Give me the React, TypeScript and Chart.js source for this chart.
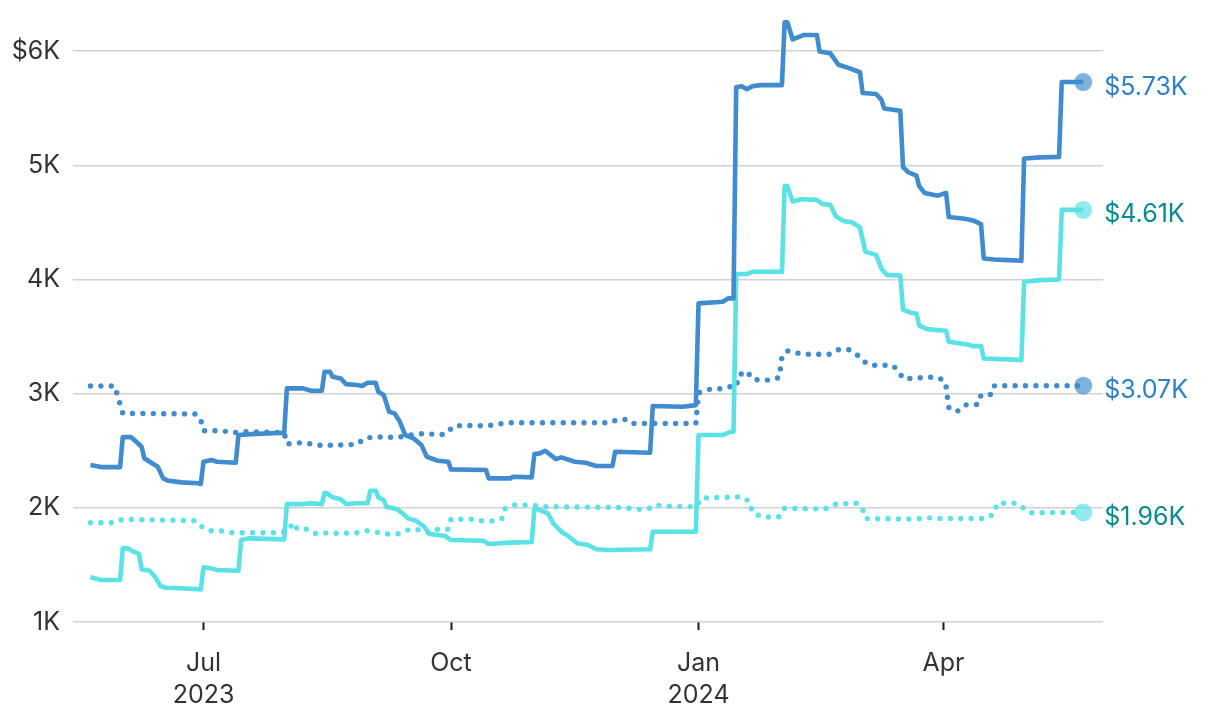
import React, { useEffect, useRef } from "react";
import { Chart, registerables } from "chart.js";

Chart.register(...registerables);

// ---------- data ----------
const START = "2023-05-01";
const X_MIN = "2023-05-13T12:00:00Z";
const X_MAX = "2024-05-30T08:00:00Z";

const TICK_DATES = ["2023-07-01", "2023-10-01", "2024-01-01", "2024-04-01"];
const TICK_LABELS = [["Jul", "2023"], ["Oct"], ["Jan", "2024"], ["Apr"]];
const Y_TICKS = [1000, 2000, 3000, 4000, 5000, 6000];

// Series A — solid dark blue
const A_DATES = [
  "2023-05-20", "2023-05-24", "2023-05-31", "2023-06-01", "2023-06-04", "2023-06-06", "2023-06-08", "2023-06-09",
  "2023-06-11", "2023-06-14", "2023-06-16", "2023-06-18", "2023-06-23", "2023-06-29", "2023-06-30", "2023-07-01",
  "2023-07-04", "2023-07-06", "2023-07-13", "2023-07-14", "2023-07-19", "2023-07-31", "2023-08-01", "2023-08-07",
  "2023-08-10", "2023-08-14", "2023-08-15", "2023-08-17", "2023-08-18", "2023-08-21", "2023-08-23", "2023-08-27",
  "2023-08-29", "2023-08-31", "2023-09-03", "2023-09-04", "2023-09-06", "2023-09-08", "2023-09-10", "2023-09-12",
  "2023-09-14", "2023-09-17", "2023-09-20", "2023-09-22", "2023-09-23", "2023-09-26", "2023-09-30", "2023-10-01",
  "2023-10-14", "2023-10-15", "2023-10-23", "2023-10-24", "2023-10-31", "2023-11-01", "2023-11-03", "2023-11-05",
  "2023-11-09", "2023-11-11", "2023-11-16", "2023-11-20", "2023-11-24", "2023-11-30", "2023-12-01", "2023-12-14",
  "2023-12-15", "2023-12-26", "2023-12-31", "2024-01-01", "2024-01-10", "2024-01-12", "2024-01-14", "2024-01-15",
  "2024-01-17", "2024-01-19", "2024-01-21", "2024-01-24", "2024-02-01", "2024-02-02", "2024-02-03", "2024-02-05",
  "2024-02-09", "2024-02-14", "2024-02-15", "2024-02-19", "2024-02-22", "2024-02-26", "2024-03-01", "2024-03-02",
  "2024-03-07", "2024-03-09", "2024-03-10", "2024-03-16", "2024-03-17", "2024-03-19", "2024-03-22", "2024-03-23",
  "2024-03-25", "2024-03-30", "2024-04-02", "2024-04-03", "2024-04-09", "2024-04-12", "2024-04-15", "2024-04-16",
  "2024-04-20", "2024-04-25", "2024-04-30", "2024-05-01", "2024-05-07", "2024-05-14", "2024-05-15", "2024-05-23",
];
const A_VALUES = [
  2375, 2357, 2357, 2620, 2620, 2579, 2535, 2434,
  2404, 2360, 2258, 2237, 2223, 2215, 2209, 2404,
  2419, 2404, 2395, 2638, 2646, 2658, 3047, 3047,
  3026, 3026, 3192, 3192, 3148, 3134, 3084, 3076,
  3067, 3096, 3096, 3017, 2988, 2842, 2828, 2754,
  2638, 2609, 2550, 2448, 2439, 2413, 2404, 2337,
  2331, 2258, 2258, 2272, 2267, 2471, 2477, 2500,
  2427, 2442, 2404, 2395, 2366, 2366, 2491, 2483,
  2892, 2885, 2900, 3791, 3805, 3835, 3835, 5685,
  5694, 5668, 5694, 5703, 5703, 6254, 6254, 6103,
  6142, 6142, 5997, 5982, 5882, 5852, 5816, 5634,
  5626, 5574, 5499, 5478, 4985, 4940, 4910, 4819,
  4759, 4735, 4759, 4548, 4533, 4518, 4485, 4185,
  4176, 4170, 4164, 5061, 5070, 5075, 5730, 5730,
];

// Series B — solid cyan
const B_DATES = [
  "2023-05-20", "2023-05-24", "2023-05-31", "2023-06-01", "2023-06-03", "2023-06-05", "2023-06-07", "2023-06-08",
  "2023-06-11", "2023-06-13", "2023-06-15", "2023-06-17", "2023-06-22", "2023-06-30", "2023-07-01", "2023-07-04",
  "2023-07-06", "2023-07-14", "2023-07-15", "2023-07-18", "2023-07-31", "2023-08-01", "2023-08-07", "2023-08-10",
  "2023-08-14", "2023-08-15", "2023-08-16", "2023-08-18", "2023-08-21", "2023-08-23", "2023-08-27", "2023-08-31",
  "2023-09-01", "2023-09-03", "2023-09-04", "2023-09-06", "2023-09-07", "2023-09-11", "2023-09-13", "2023-09-15",
  "2023-09-18", "2023-09-21", "2023-09-23", "2023-09-26", "2023-09-29", "2023-10-01", "2023-10-13", "2023-10-15",
  "2023-10-23", "2023-10-31", "2023-11-01", "2023-11-03", "2023-11-06", "2023-11-08", "2023-11-11", "2023-11-13",
  "2023-11-17", "2023-11-21", "2023-11-24", "2023-11-29", "2023-12-14", "2023-12-15", "2023-12-31", "2024-01-01",
  "2024-01-10", "2024-01-13", "2024-01-14", "2024-01-15", "2024-01-19", "2024-01-21", "2024-01-31", "2024-02-01",
  "2024-02-02", "2024-02-03", "2024-02-05", "2024-02-08", "2024-02-14", "2024-02-16", "2024-02-19", "2024-02-21",
  "2024-02-24", "2024-02-27", "2024-03-01", "2024-03-03", "2024-03-07", "2024-03-09", "2024-03-11", "2024-03-16",
  "2024-03-17", "2024-03-20", "2024-03-22", "2024-03-23", "2024-03-26", "2024-04-02", "2024-04-03", "2024-04-11",
  "2024-04-12", "2024-04-15", "2024-04-16", "2024-04-25", "2024-04-30", "2024-05-01", "2024-05-07", "2024-05-14",
  "2024-05-15", "2024-05-23",
];
const B_VALUES = [
  1392, 1368, 1368, 1645, 1645, 1616, 1596, 1462,
  1449, 1397, 1315, 1300, 1295, 1286, 1479, 1470,
  1455, 1449, 1718, 1733, 1724, 2033, 2033, 2040,
  2033, 2132, 2127, 2092, 2075, 2033, 2040, 2040,
  2150, 2150, 2092, 2068, 2010, 1987, 1952, 1908,
  1887, 1835, 1771, 1762, 1753, 1718, 1712, 1683,
  1695, 1701, 1996, 1981, 1952, 1864, 1791, 1762,
  1689, 1674, 1637, 1631, 1637, 1791, 1791, 2638,
  2638, 2667, 2667, 4048, 4048, 4068, 4068, 4065,
  4819, 4819, 4683, 4704, 4698, 4662, 4654, 4554,
  4512, 4502, 4457, 4245, 4216, 4095, 4041, 4034,
  3738, 3708, 3703, 3597, 3566, 3551, 3455, 3426,
  3415, 3417, 3309, 3301, 3294, 3980, 3995, 4001,
  4610, 4610,
];

// Series C — dotted dark blue
const C_DATES = [
  "2023-05-20", "2023-05-29", "2023-05-31", "2023-06-01", "2023-06-28", "2023-06-30", "2023-07-01", "2023-07-08",
  "2023-07-12", "2023-07-16", "2023-07-31", "2023-08-01", "2023-08-05", "2023-08-09", "2023-08-12", "2023-08-20",
  "2023-08-27", "2023-08-30", "2023-09-03", "2023-09-07", "2023-09-11", "2023-09-14", "2023-09-18", "2023-09-22",
  "2023-09-26", "2023-09-29", "2023-10-02", "2023-10-06", "2023-10-13", "2023-10-17", "2023-10-21", "2023-11-29",
  "2023-12-02", "2023-12-06", "2023-12-08", "2023-12-12", "2023-12-31", "2024-01-01", "2024-01-05", "2024-01-08",
  "2024-01-12", "2024-01-15", "2024-01-16", "2024-01-19", "2024-01-21", "2024-01-24", "2024-01-28", "2024-01-31",
  "2024-02-01", "2024-02-03", "2024-02-07", "2024-02-11", "2024-02-19", "2024-02-22", "2024-02-26", "2024-02-29",
  "2024-03-02", "2024-03-05", "2024-03-13", "2024-03-15", "2024-03-17", "2024-03-21", "2024-03-25", "2024-03-29",
  "2024-04-01", "2024-04-02", "2024-04-03", "2024-04-06", "2024-04-09", "2024-04-14", "2024-04-15", "2024-04-19",
  "2024-04-20", "2024-05-23",
];
const C_VALUES = [
  3067, 3067, 2909, 2828, 2822, 2769, 2675, 2675,
  2658, 2667, 2658, 2559, 2570, 2565, 2548, 2550,
  2556, 2609, 2623, 2618, 2618, 2629, 2646, 2653,
  2638, 2646, 2717, 2723, 2719, 2725, 2745, 2745,
  2775, 2775, 2740, 2740, 2740, 3008, 3038, 3038,
  3061, 3061, 3163, 3198, 3128, 3119, 3119, 3143,
  3323, 3376, 3355, 3346, 3346, 3385, 3385, 3340,
  3288, 3249, 3249, 3210, 3134, 3134, 3144, 3144,
  3122, 3062, 2880, 2842, 2902, 2907, 2988, 2994,
  3070, 3070,
];

// Series D — dotted cyan
const D_DATES = [
  "2023-05-20", "2023-05-29", "2023-06-01", "2023-06-28", "2023-06-30", "2023-07-03", "2023-07-07", "2023-07-11",
  "2023-07-30", "2023-08-02", "2023-08-03", "2023-08-05", "2023-08-09", "2023-08-12", "2023-08-16", "2023-08-19",
  "2023-08-27", "2023-08-31", "2023-09-03", "2023-09-07", "2023-09-11", "2023-09-15", "2023-09-18", "2023-09-22",
  "2023-09-23", "2023-09-26", "2023-09-30", "2023-10-01", "2023-10-09", "2023-10-13", "2023-10-17", "2023-10-20",
  "2023-10-21", "2023-10-24", "2023-10-28", "2023-11-01", "2023-11-04", "2023-11-29", "2023-12-05", "2023-12-09",
  "2023-12-13", "2023-12-16", "2023-12-20", "2023-12-31", "2024-01-02", "2024-01-06", "2024-01-17", "2024-01-20",
  "2024-01-21", "2024-01-24", "2024-01-28", "2024-01-31", "2024-02-02", "2024-02-17", "2024-02-21", "2024-02-29",
  "2024-03-02", "2024-03-03", "2024-03-22", "2024-03-26", "2024-03-31", "2024-04-17", "2024-04-20", "2024-04-21",
  "2024-04-28", "2024-05-01", "2024-05-03", "2024-05-23",
];
const D_VALUES = [
  1870, 1870, 1900, 1887, 1841, 1800, 1800, 1782,
  1782, 1806, 1870, 1812, 1812, 1771, 1782, 1777,
  1782, 1800, 1788, 1771, 1771, 1806, 1812, 1788,
  1777, 1812, 1812, 1900, 1900, 1885, 1885, 1908,
  1990, 2025, 2025, 2019, 2010, 2005, 2001, 1987,
  1987, 2025, 2016, 2010, 2083, 2089, 2097, 2054,
  1957, 1928, 1917, 1922, 1996, 1990, 2033, 2041,
  1987, 1906, 1902, 1914, 1906, 1908, 1952, 2040,
  2040, 1996, 1957, 1960,
];

// ---------- styles ----------
const BLUE = "#408cce";
const CYAN = "#5ce1e6";
const BLUE_DOT = "rgba(64,140,206,0.68)";
const CYAN_DOT = "rgba(92,225,230,0.68)";
const BLUE_TEXT = "#2f80c4";
const TEAL_TEXT = "#0a8a90";
const FONT = "Inter, 'Open Sans', sans-serif";

function toDay(s: string): number {
  const iso = s.length === 10 ? s + "T00:00:00Z" : s;
  return (Date.parse(iso) - Date.parse(START + "T00:00:00Z")) / 86400000;
}

function points(dates: string[], values: number[]) {
  return dates.map((d, i) => ({ x: toDay(d), y: values[i] }));
}

function fmtEnd(v: number) {
  return "$" + (v / 1000).toFixed(2) + "K";
}

export default function App() {
  const ref = useRef<HTMLCanvasElement | null>(null);

  useEffect(() => {
    if (!ref.current) return;
    document.body.style.margin = "0";

    const mk = (data: any[], color: string, dot: string, dotted: boolean, textColor: string) => ({
      data,
      borderColor: color,
      borderWidth: dotted ? 5.4 : 4.6,
      borderDash: dotted ? [0, 10.4] : [],
      borderCapStyle: dotted ? "round" : "butt",
      borderJoinStyle: "round",
      tension: 0,
      pointRadius: (c: any) => (c.dataIndex === data.length - 1 ? 9 : 0),
      pointHoverRadius: 0,
      pointBackgroundColor: dot,
      pointBorderWidth: 0,
      pointBorderColor: "rgba(0,0,0,0)",
      textColor,
    });

    const datasets: any[] = [
      mk(points(A_DATES, A_VALUES), BLUE, BLUE_DOT, false, BLUE_TEXT),
      mk(points(B_DATES, B_VALUES), CYAN, CYAN_DOT, false, TEAL_TEXT),
      mk(points(C_DATES, C_VALUES), BLUE, BLUE_DOT, true, BLUE_TEXT),
      mk(points(D_DATES, D_VALUES), CYAN, CYAN_DOT, true, TEAL_TEXT),
    ];

    const endLabels = {
      id: "endLabels",
      afterDatasetsDraw(chart: any) {
        const ctx = chart.ctx;
        chart.data.datasets.forEach((ds: any, i: number) => {
          const meta = chart.getDatasetMeta(i);
          const el = meta.data[meta.data.length - 1];
          const v = ds.data[ds.data.length - 1].y;
          ctx.save();
          ctx.font = "25px " + FONT;
          ctx.fillStyle = ds.textColor;
          ctx.textAlign = "left";
          ctx.textBaseline = "middle";
          ctx.fillText(fmtEnd(v), el.x + 21, el.y + 5);
          ctx.restore();
        });
      },
    };

    const chart = new Chart(ref.current, {
      type: "line",
      data: { datasets },
      plugins: [endLabels],
      options: {
        animation: false,
        responsive: false,
        devicePixelRatio: 1,
        layout: { padding: { left: 8, right: 117, top: 17, bottom: 0 } },
        plugins: { legend: { display: false }, tooltip: { enabled: false } },
        scales: {
          x: {
            type: "linear",
            min: toDay(X_MIN),
            max: toDay(X_MAX),
            afterBuildTicks: (s: any) => {
              s.ticks = TICK_DATES.map((d) => ({ value: toDay(d) }));
            },
            afterFit: (s: any) => {
              s.height = 100;
              s.paddingLeft = 0;
              s.paddingRight = 0;
            },
            border: { display: false },
            grid: {
              drawOnChartArea: false,
              drawTicks: true,
              tickLength: 8,
              tickColor: "#1a1a1a",
              tickWidth: 2,
            },
            ticks: {
              autoSkip: false,
              maxRotation: 0,
              padding: 17,
              color: "#333",
              font: { family: FONT, size: 25, lineHeight: 1.28 },
              callback: (_v: any, i: number) => TICK_LABELS[i],
            },
          },
          y: {
            type: "linear",
            min: 1000,
            max: 6300,
            afterBuildTicks: (s: any) => {
              s.ticks = Y_TICKS.map((v) => ({ value: v }));
            },
            afterFit: (s: any) => {
              s.width = 65;
              s.paddingTop = 0;
              s.paddingBottom = 0;
            },
            border: { display: false },
            grid: { color: "#d2d2d2", lineWidth: 1.5, drawTicks: false },
            ticks: {
              padding: 13,
              color: "#333",
              font: { family: FONT, size: 25 },
              callback: (v: any) => (v === 6000 ? "$6K" : v / 1000 + "K"),
            },
          },
        },
      } as any,
    });

    return () => chart.destroy();
  }, []);

  return (
    <div style={{ position: "fixed", left: 0, top: 0, width: 1220, height: 722, background: "#fff" }}>
      <canvas ref={ref} width={1220} height={722} style={{ width: 1220, height: 722, display: "block" }} />
    </div>
  );
}
